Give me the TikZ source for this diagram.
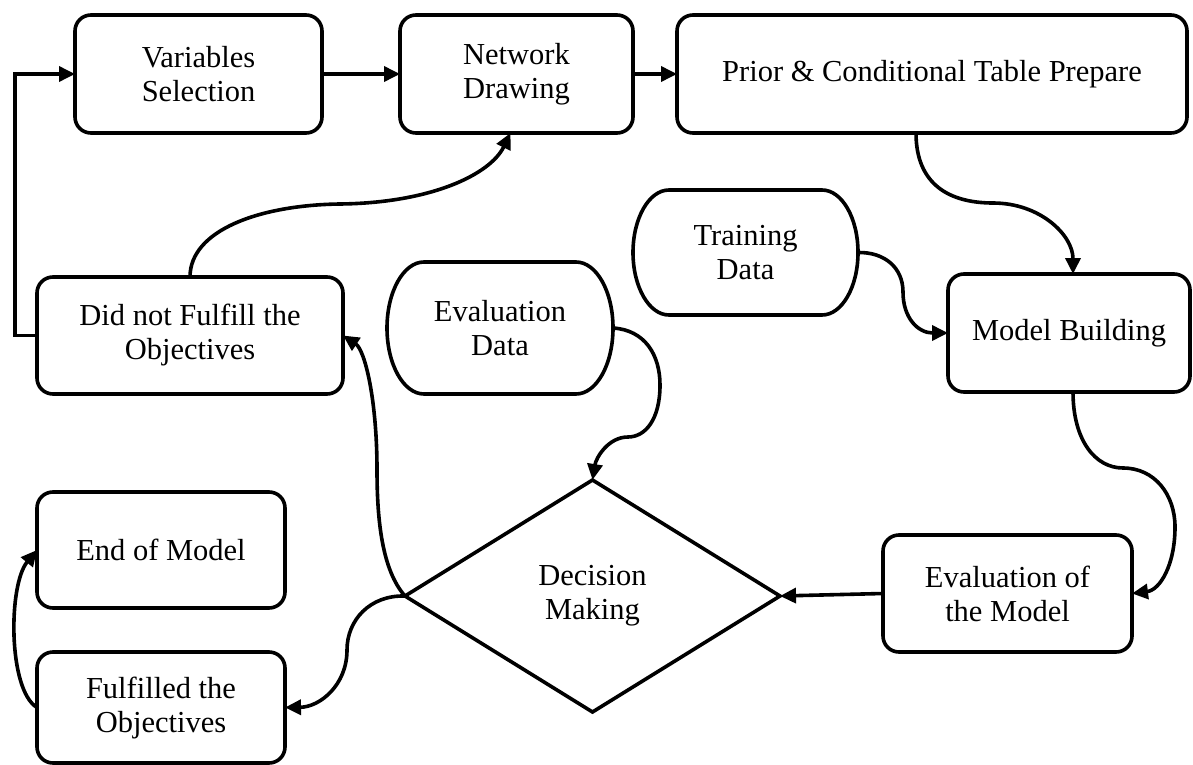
\documentclass[tikz,border=0pt]{standalone}
\usepackage{fontspec}
\setmainfont{Liberation Serif}
\usetikzlibrary{shapes.geometric,arrows.meta,calc}
\begin{document}
\begin{tikzpicture}[x=1pt,y=-1pt,
  every node/.style={font=\fontsize{30.5}{34}\selectfont, align=center, inner sep=0pt, outer sep=0pt},
  box/.style={draw, line width=3.6pt, rounded corners=16pt},
  datanode/.style={draw=none},
  decision/.style={draw, line width=3.6pt, diamond, line join=miter},
  conn/.style={line width=3.6pt, line join=round, -{Triangle[length=16pt,width=15pt]}},
  dataline/.style={line width=3.6pt, line join=round}
  ]
\useasboundingbox (0,0) rectangle (1193,765);

% process boxes
\node[box, minimum width=247pt, minimum height=118pt] (VS) at (198.5,74) {Variables\\Selection};
\node[box, minimum width=233pt, minimum height=118pt] (ND) at (516.5,74) {Network\\Drawing};
\node[box, minimum width=510pt, minimum height=118pt] (PR) at (932,74) {Prior \& Conditional Table Prepare};
\node[box, minimum width=242pt, minimum height=118pt] (MB) at (1069,333) {Model Building};
\node[box, minimum width=306pt, minimum height=117pt] (DNF) at (190,335.5) {Did not Fulfill the\\Objectives};
\node[box, minimum width=249pt, minimum height=117pt] (EM) at (1007.5,593.5) {Evaluation of\\the Model};
\node[box, minimum width=248pt, minimum height=116pt] (END) at (161,550) {End of Model};
\node[box, minimum width=248pt, minimum height=111pt] (FO) at (161,707.5) {Fulfilled the\\Objectives};

% data shapes
\node[datanode, minimum width=225pt, minimum height=125pt] (TD) at (745.5,252.5) {Training\\Data};
\node[datanode, minimum width=226pt, minimum height=132pt] (ED) at (500,328) {Evaluation\\Data};
\draw[dataline] ([xshift=36pt]TD.north west) -- ([xshift=-36pt]TD.north east)
  arc[start angle=90, end angle=-90, x radius=36pt, y radius=62.5pt]
  -- ([xshift=36pt]TD.south west)
  arc[start angle=270, end angle=90, x radius=36pt, y radius=62.5pt] -- cycle;
\draw[dataline] ([xshift=37pt]ED.north west) -- ([xshift=-37pt]ED.north east)
  arc[start angle=90, end angle=-90, x radius=37pt, y radius=66pt]
  -- ([xshift=37pt]ED.south west)
  arc[start angle=270, end angle=90, x radius=37pt, y radius=66pt] -- cycle;

% decision
\node[decision, minimum width=375pt, minimum height=232pt] (DM) at (592.5,596) {Decision\\Making};

% connectors
\draw[conn] (VS.east) -- (ND.west);
\draw[conn] (ND.east) -- (PR.west);
\draw[conn] ([xshift=-16pt]PR.south) .. controls (916,185) and (950,203) .. (993,203)
  .. controls (1040,203) and (1073,235) .. ([xshift=4pt]MB.north);
\draw[conn] (TD.east) .. controls (885,252) and (903,268) .. (903,292)
  .. controls (903,318) and (918,333) .. (MB.west);
\draw[conn] (ED.east) .. controls (645,330) and (660,355) .. (660,385)
  .. controls (660,420) and (645,437) .. (628,437)
  .. controls (608,437) and (596,458) .. (DM.north);
\draw[conn] (EM.west) -- (DM.east);
\draw[conn] ([xshift=4pt]MB.south) .. controls (1073,440) and (1095,468) .. (1123,468)
  .. controls (1155,468) and (1175,495) .. (1175,527)
  .. controls (1175,565) and (1160,590) .. (EM.east);
\draw[conn] (DM.west) .. controls (382,570) and (377,520) .. (377,470)
  .. controls (377,400) and (365,350) .. (DNF.east);
\draw[conn] (DNF.north) .. controls (190,230) and (260,205) .. (340,204)
  .. controls (430,203) and (490,175) .. ([xshift=-6pt]ND.south);
\draw[conn, line join=miter] (DNF.west) -- ++(-22,0) |- (VS.west);
\draw[conn] (DM.west) .. controls (370,595) and (347,620) .. (347,650)
  .. controls (347,685) and (320,707) .. (FO.east);
\draw[conn] (FO.west) .. controls (8,690) and (8,585) .. (END.west);
\end{tikzpicture}
\end{document}
